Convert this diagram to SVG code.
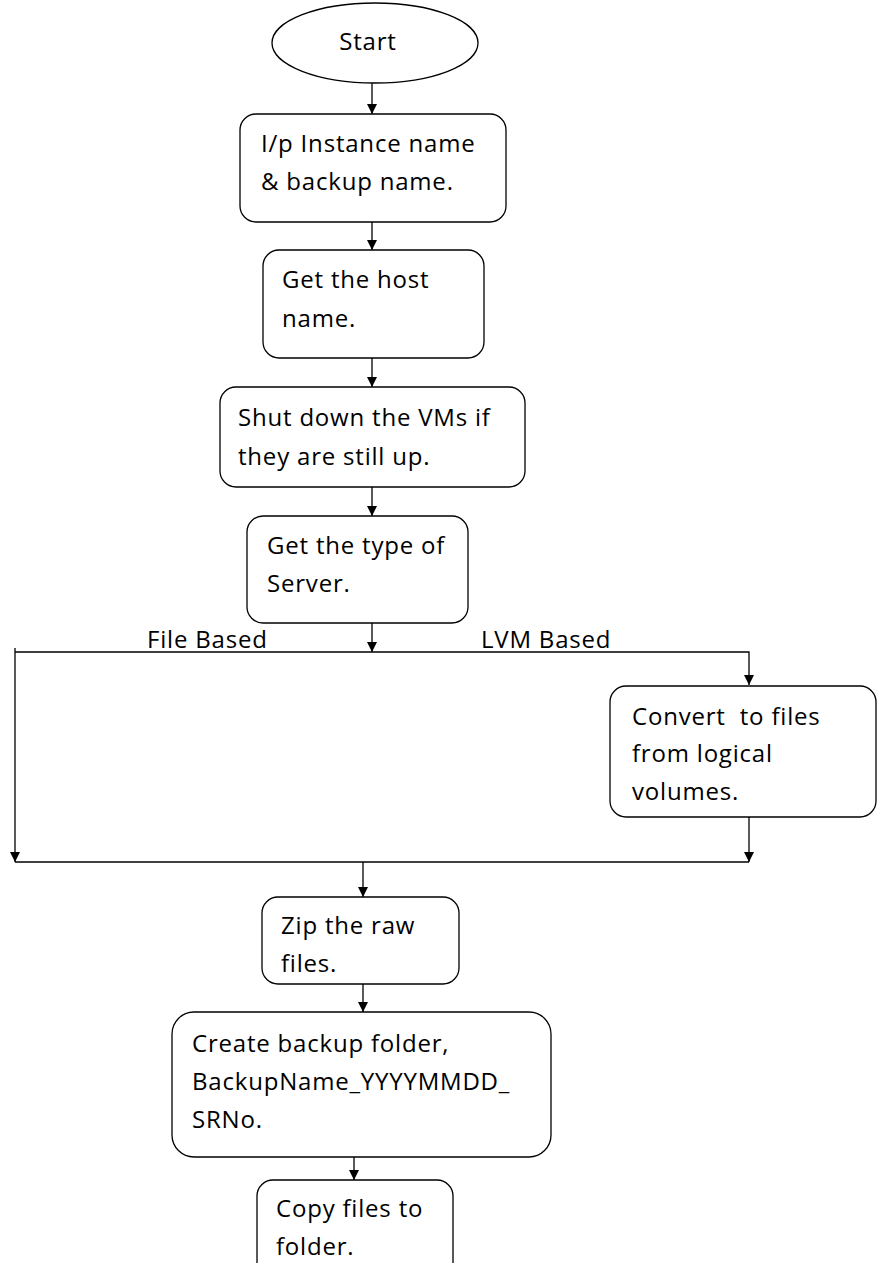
<svg xmlns="http://www.w3.org/2000/svg" width="879" height="1263" viewBox="0 0 879 1263">
  <style>
    .box { fill: #ffffff; stroke: #000000; stroke-width: 1.3; }
    .edge { fill: none; stroke: #000000; stroke-width: 1.3; }
    .label { font-family: "Open Sans", "Liberation Sans", Arial, sans-serif; font-size: 24px; letter-spacing: 0.8px; fill: #000000; }
    .pre { white-space: pre; }
  </style>
  <defs>
    <marker id="arrow" viewBox="0 0 10 10" refX="10" refY="5" markerWidth="10" markerHeight="10" markerUnits="userSpaceOnUse" orient="auto">
      <path d="M0,0 L10,5 L0,10 Z" fill="#000000"/>
    </marker>
  </defs>
  <rect width="879" height="1263" fill="#ffffff"/>

  <g id="connectors">
    <line class="edge" x1="372" y1="83" x2="372" y2="114" marker-end="url(#arrow)"/>
    <line class="edge" x1="372" y1="222" x2="372" y2="250" marker-end="url(#arrow)"/>
    <line class="edge" x1="372" y1="358" x2="372" y2="387" marker-end="url(#arrow)"/>
    <line class="edge" x1="372" y1="487" x2="372" y2="516" marker-end="url(#arrow)"/>
    <line class="edge" x1="372" y1="623" x2="372" y2="652" marker-end="url(#arrow)"/>
    <!-- branch bar -->
    <polyline class="edge" points="15,652 749,652 749,685" marker-end="url(#arrow)"/>
    <line class="edge" x1="15" y1="648" x2="15" y2="862" marker-end="url(#arrow)"/>
    <line class="edge" x1="749" y1="817" x2="749" y2="862" marker-end="url(#arrow)"/>
    <!-- merge bar -->
    <line class="edge" x1="15" y1="862" x2="749" y2="862"/>
    <line class="edge" x1="363" y1="862" x2="363" y2="897" marker-end="url(#arrow)"/>
    <line class="edge" x1="363" y1="984" x2="363" y2="1012" marker-end="url(#arrow)"/>
    <line class="edge" x1="354" y1="1157" x2="354" y2="1180" marker-end="url(#arrow)"/>
    <text class="label" x="147" y="648">File Based</text>
    <text class="label" x="481" y="648">LVM Based</text>
  </g>

  <g id="start">
    <ellipse class="box" cx="375" cy="43" rx="103" ry="40"/>
    <text class="label" x="368" y="50" text-anchor="middle">Start</text>
  </g>

  <g id="input-names">
    <rect class="box" x="240" y="114" width="266" height="108" rx="16"/>
    <text class="label" x="261" y="152">I/p Instance name</text>
    <text class="label" x="261" y="190">&amp; backup name.</text>
  </g>

  <g id="get-host">
    <rect class="box" x="263" y="250" width="221" height="108" rx="16"/>
    <text class="label" x="282" y="288">Get the host</text>
    <text class="label" x="282" y="327">name.</text>
  </g>

  <g id="shutdown-vms">
    <rect class="box" x="220" y="387" width="305" height="100" rx="16"/>
    <text class="label" x="238" y="426">Shut down the VMs if</text>
    <text class="label" x="238" y="465">they are still up.</text>
  </g>

  <g id="server-type">
    <rect class="box" x="247" y="516" width="221" height="107" rx="16"/>
    <text class="label" x="267" y="554">Get the type of</text>
    <text class="label" x="267" y="592">Server.</text>
  </g>

  <g id="convert-lv">
    <rect class="box" x="610" y="686" width="266" height="131" rx="16"/>
    <text class="label pre" x="632" y="725">Convert  to files</text>
    <text class="label" x="632" y="762">from logical</text>
    <text class="label" x="632" y="800">volumes.</text>
  </g>

  <g id="zip-files">
    <rect class="box" x="262" y="897" width="197" height="87" rx="16"/>
    <text class="label" x="281" y="934">Zip the raw</text>
    <text class="label" x="281" y="972">files.</text>
  </g>

  <g id="create-folder">
    <rect class="box" x="172" y="1012" width="379" height="145" rx="22"/>
    <text class="label" x="192" y="1052">Create backup folder,</text>
    <text class="label" x="192" y="1090">BackupName_YYYYMMDD_</text>
    <text class="label" x="192" y="1128">SRNo.</text>
  </g>

  <g id="copy-files">
    <rect class="box" x="257" y="1180" width="196" height="100" rx="16"/>
    <text class="label" x="276" y="1217">Copy files to</text>
    <text class="label" x="276" y="1255">folder.</text>
  </g>
</svg>
